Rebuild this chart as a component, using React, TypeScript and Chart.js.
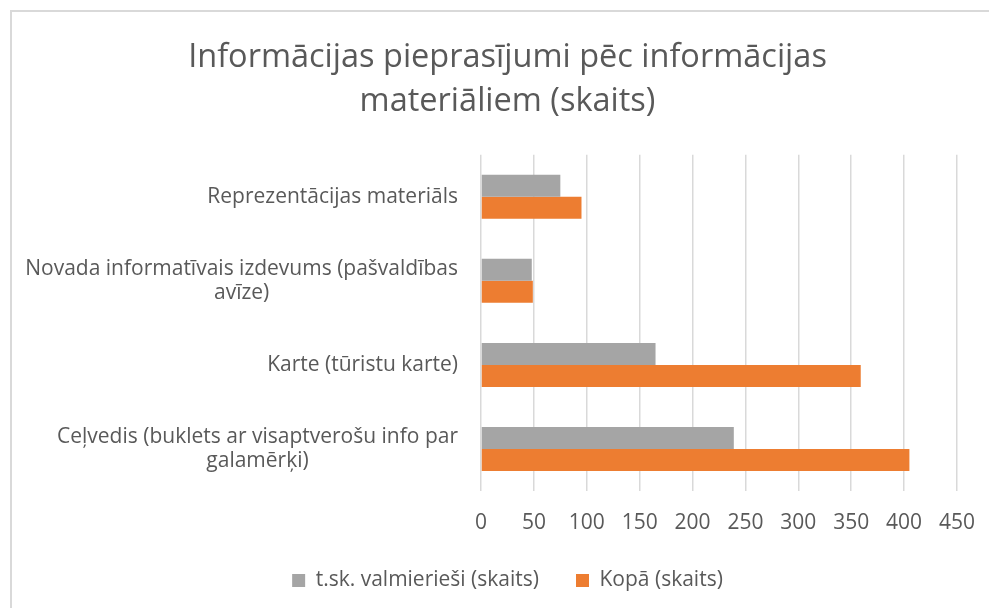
import React, { useEffect, useRef } from "react";
import { Chart, registerables } from "chart.js";

Chart.register(...registerables);

const categories: string[][] = [
  ["Reprezentācijas materiāls"],
  ["Novada informatīvais izdevums (pašvaldības", "avīze)"],
  ["Karte (tūristu karte)"],
  ["Ceļvedis (buklets ar visaptverošu info par", "galamērķi)"],
];
const seriesNames = ["t.sk. valmierieši (skaits)", "Kopā (skaits)"];
const valmierieši = [75, 48, 165, 239];
const kopa = [95, 49, 359, 405];
const titleLines = ["Informācijas pieprasījumi pēc informācijas", "materiāliem (skaits)"];

const FONT = "'Open Sans'";
const TEXT = "#595959";

export default function App() {
  const ref = useRef<HTMLCanvasElement>(null);
  useEffect(() => {
    if (!ref.current) return;
    const yLabelPlugin = {
      id: "yLabels",
      afterDraw(chart: any) {
        const ctx = chart.ctx;
        const ys = chart.scales.y;
        const right = chart.chartArea.left - 23;
        ctx.save();
        ctx.font = `21px ${FONT}`;
        ctx.fillStyle = TEXT;
        ctx.textAlign = "center";
        ctx.textBaseline = "middle";
        const lh = 24;
        categories.forEach((lines, i) => {
          const y = ys.getPixelForValue(i);
          const w = Math.max(...lines.map((l) => ctx.measureText(l).width));
          const cx = right - w / 2;
          const y0 = y - ((lines.length - 1) * lh) / 2;
          lines.forEach((l, j) => ctx.fillText(l, cx, y0 + j * lh));
        });
        ctx.restore();
      },
    };
    const chart = new Chart(ref.current, {
      type: "bar",
      data: {
        labels: categories.map((c) => c.join(" ")),
        datasets: [
          {
            label: seriesNames[0],
            data: valmierieši,
            backgroundColor: "#A5A5A5",
            categoryPercentage: 0.524,
            barPercentage: 1,
          },
          {
            label: seriesNames[1],
            data: kopa,
            backgroundColor: "#ED7D31",
            categoryPercentage: 0.524,
            barPercentage: 1,
          },
        ],
      },
      options: {
        indexAxis: "y",
        responsive: false,
        animation: false,
        layout: { padding: { left: 58, right: 32, top: 0, bottom: 7 } },
        scales: {
          x: {
            min: 0,
            max: 450,
            ticks: { stepSize: 50, color: TEXT, font: { family: FONT, size: 21 }, padding: 19 },
            grid: { color: "#d9d9d9", lineWidth: 1.5, drawTicks: false },
            border: { display: false },
            afterFit: (s: any) => {
              s.height = 42;
              s.paddingLeft = 0;
              s.paddingRight = 0;
            },
          },
          y: {
            ticks: { display: false },
            grid: { display: false },
            border: { display: false },
            afterFit: (s: any) => {
              s.width = 423;
            },
          },
        },
        plugins: {
          title: {
            display: true,
            text: titleLines,
            color: TEXT,
            font: { family: FONT, size: 32.5, weight: "normal", lineHeight: 1.35 },
            padding: { top: 36, bottom: 31 },
          },
          legend: {
            position: "bottom",
            labels: {
              color: TEXT,
              font: { family: FONT, size: 21 },
              boxWidth: 13,
              boxHeight: 13,
              padding: 37,
            },
          },
          tooltip: { enabled: false },
        },
      },
      plugins: [yLabelPlugin],
    });
    return () => chart.destroy();
  }, []);
  return (
    <div style={{ position: "fixed", left: 0, top: 0, width: 989, height: 608, overflow: "hidden", background: "#fff" }}>
      <div style={{ position: "absolute", left: 10, top: 10, width: 1000, height: 700, border: "2px solid #d9d9d9" }} />
      <canvas ref={ref} width={989} height={608} style={{ position: "absolute", left: 0, top: 0 }} />
    </div>
  );
}
